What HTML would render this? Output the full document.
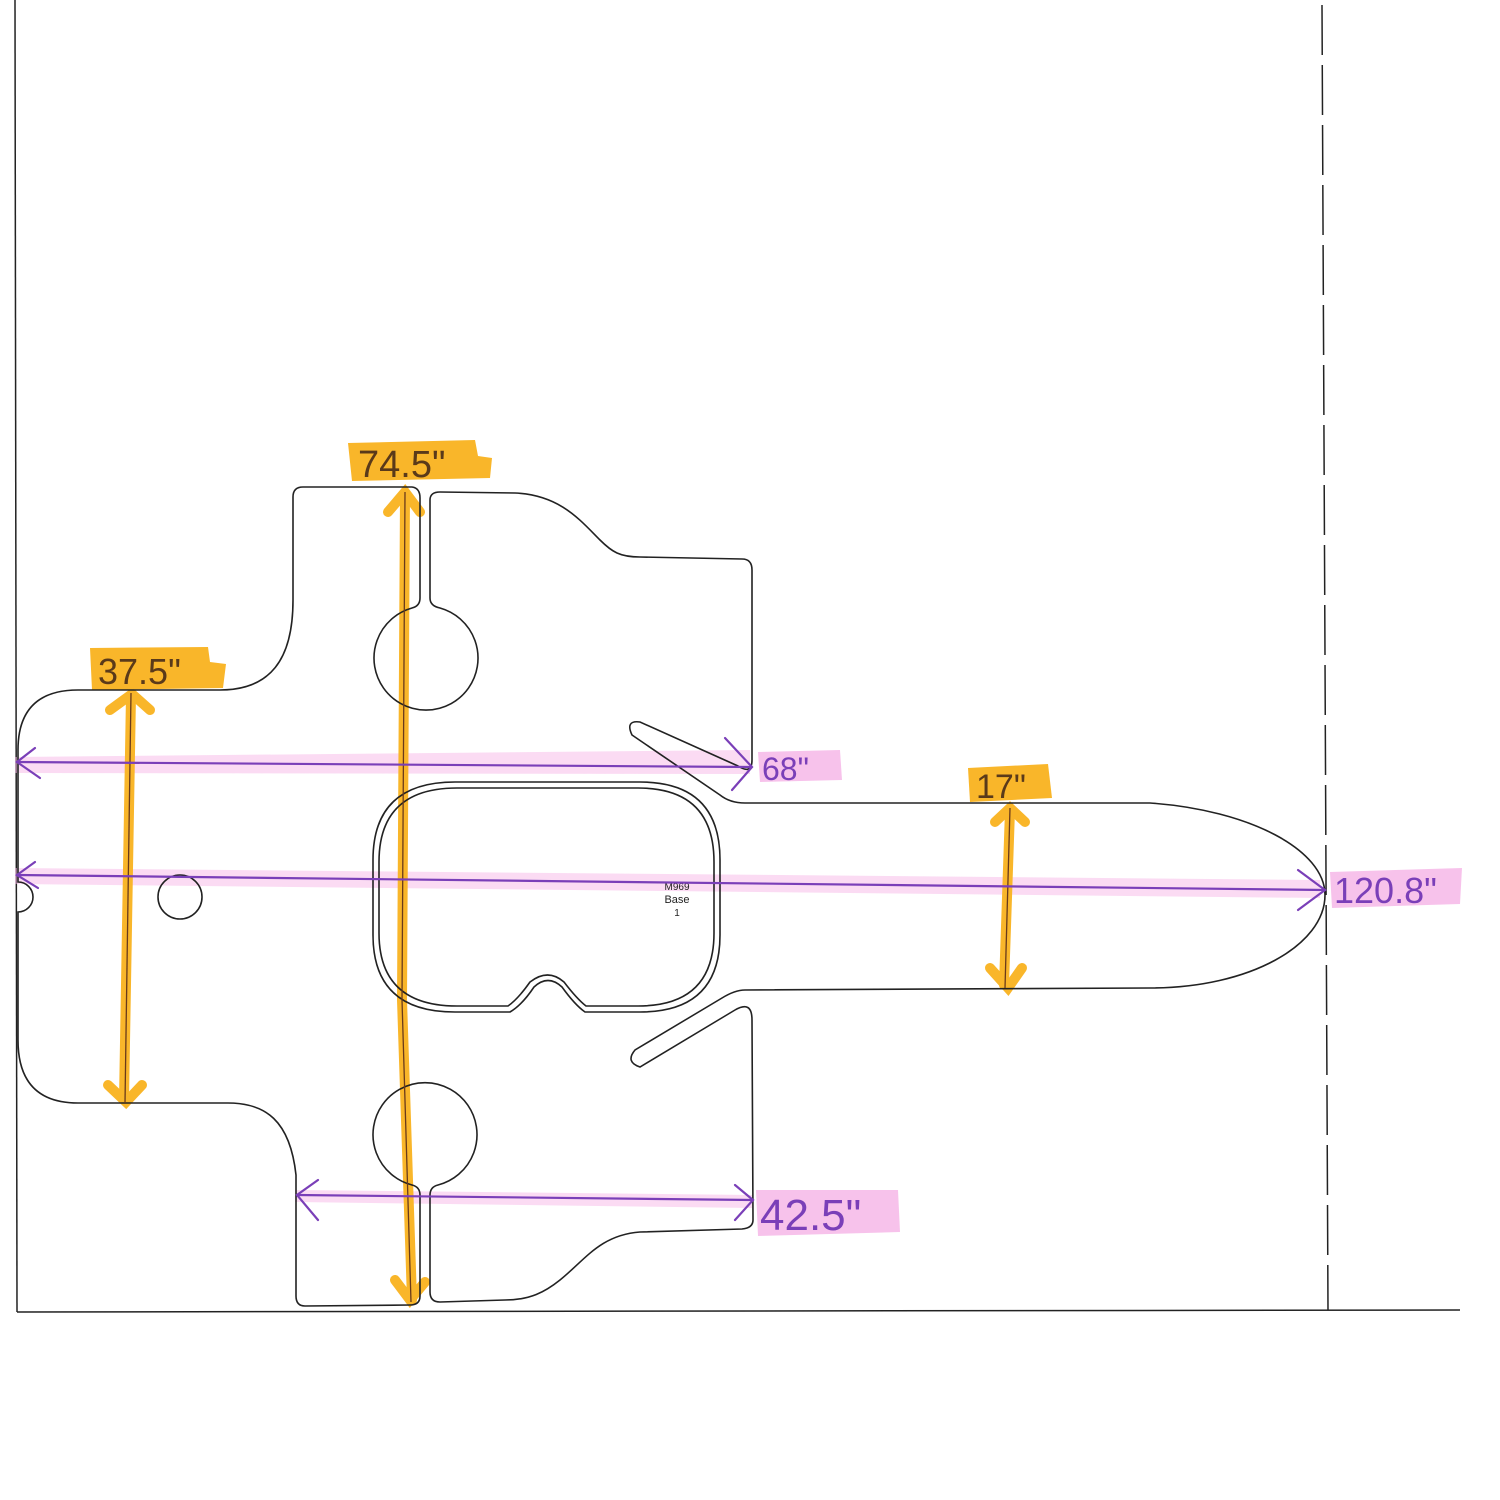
<!DOCTYPE html>
<html><head><meta charset="utf-8"><style>
html,body{margin:0;padding:0;background:#fff;}
svg{display:block;}
.hw{font-family:"Liberation Sans",sans-serif;}
</style></head><body>
<svg width="1500" height="1500" viewBox="0 0 1500 1500" xmlns="http://www.w3.org/2000/svg">
<rect width="1500" height="1500" fill="#fff"/>
<line x1="15" y1="0" x2="17" y2="1312" stroke="#222" stroke-width="1.5"/>
<line x1="17" y1="1312" x2="1460" y2="1310" stroke="#222" stroke-width="1.5"/>
<line x1="1322" y1="5" x2="1328" y2="1310" stroke="#222" stroke-width="1.5" stroke-dasharray="50,10"/>

<g fill="#f9b62a">
<path d="M348 443 L475 440 L478 456 L492 458 L490 478 L352 481 Z"/>
<path d="M90 648 L208 647 L210 662 L226 664 L223 688 L92 690 Z"/>
<path d="M968 768 L1048 764 L1052 798 L970 802 Z"/>
</g>
<g fill="#f6b8e8" opacity="0.85">
<path d="M758 752 L840 750 L842 780 L760 782 Z"/>
<path d="M1330 872 L1462 868 L1460 904 L1332 908 Z"/>
<path d="M756 1190 L898 1190 L900 1232 L758 1236 Z"/>
<path d="M15 757 L750 750 L750 774 L15 773 Z" opacity="0.6"/>
<path d="M15 868 L1320 880 L1320 898 L15 884 Z" opacity="0.6"/>
<path d="M295 1190 L752 1195 L752 1208 L295 1202 Z" opacity="0.6"/>
</g>
<g stroke="#f9b62a" stroke-width="10" stroke-linecap="round" fill="none">
<path d="M405 495 L402 1000 L412 1300"/>
<path d="M131 695 L124 1100"/>
<path d="M1010 810 L1004 985"/>
<path d="M388 512 L405 492 L420 512"/>
<path d="M110 710 L132 694 L150 710"/>
<path d="M108 1085 L126 1102 L142 1085"/>
<path d="M995 822 L1010 808 L1025 822"/>
<path d="M990 968 L1008 988 L1022 968"/>
<path d="M395 1280 L410 1300 L425 1282"/>
</g>
<g fill="none" stroke="#222" stroke-width="1.6">
<path d="M78 690 L220 690 C270 690 293 660 293 600 L293 497 Q293 487 303 487 L412 487 Q420 488 420 498 L420 598 Q420 606 412 608
A52 52 0 1 0 440 608 Q430 606 430 598 L430 500 Q430 492 440 492 L515 493 C560 495 580 520 600 540 C612 552 620 557 640 557 L742 559 Q752 559 752 570 L752 760 Q752 775 738 766 L640 722 Q625 720 632 735 L720 795 Q730 803 745 803 L1150 803 C1250 810 1325 850 1325 895 C1325 945 1250 988 1150 988 L745 990 Q735 990 722 998 L635 1050 Q625 1062 640 1067 L735 1010 Q752 1000 752 1020 L753 1220 Q753 1228 742 1229 L640 1232 C600 1235 585 1260 560 1280 C545 1292 530 1300 505 1300 L440 1302 Q430 1302 430 1292 L430 1195 Q430 1187 438 1185 A52 52 0 1 0 412 1185 Q420 1187 420 1195 L420 1296 Q420 1305 410 1305 L305 1306 Q296 1306 296 1296 L296 1175 C290 1120 265 1103 228 1103 L78 1103 Q18 1103 18 1040 L18 912 A14 14 0 0 0 18 882 L18 750 Q18 690 78 690 Z"/>
<circle cx="180" cy="897" r="22"/>
<path d="M455 782 L640 782 Q720 782 720 860 L720 935 Q720 1012 640 1012 L585 1012 Q575 1005 562 987 Q548 974 534 987 Q522 1005 510 1012 L455 1012 Q373 1012 373 935 L373 860 Q373 782 455 782 Z"/>
<path d="M457 788 L638 788 Q714 788 714 862 L714 933 Q714 1006 638 1006 L586 1006 Q577 999 564 982 Q548 968 530 982 Q518 999 508 1006 L457 1006 Q379 1006 379 933 L379 862 Q379 788 457 788 Z"/>
</g>
<text x="677" y="890" font-size="10" text-anchor="middle" class="hw" fill="#222">M969</text>
<text x="677" y="903" font-size="11" text-anchor="middle" class="hw" fill="#222">Base</text>
<text x="677" y="916" font-size="10" text-anchor="middle" class="hw" fill="#222">1</text>

<g stroke="#6a3a1a" stroke-width="1.3" fill="none">
<path d="M405 492 L402 1000 L411 1302"/>
<path d="M131 693 L125 1103"/>
<path d="M1010 808 L1005 988"/>
</g>
<g stroke="#7a3fb8" stroke-width="2.2" fill="none" stroke-linecap="round">
<path d="M17 762 L750 767"/>
<path d="M35 748 L17 762 L40 778"/>
<path d="M725 738 L752 767 L732 790"/>
<path d="M17 875 L1325 890"/>
<path d="M35 862 L17 875 L38 888"/>
<path d="M1298 870 L1325 890 L1298 910"/>
<path d="M297 1195 L753 1200"/>
<path d="M318 1180 L297 1195 L318 1220"/>
<path d="M735 1185 L753 1200 L735 1220"/>
</g>
<g class="hw">
<text x="358" y="477" font-size="38" fill="#5a3a1a">74.5"</text>
<text x="98" y="684" font-size="36" fill="#5a3a1a">37.5"</text>
<text x="976" y="798" font-size="34" fill="#5a3a1a">17"</text>
<text x="762" y="780" font-size="32" fill="#7a3fb8">68"</text>
<text x="1334" y="903" font-size="36" fill="#7a3fb8">120.8"</text>
<text x="760" y="1230" font-size="44" fill="#7a3fb8">42.5"</text>
</g>
</svg>
</body></html>
